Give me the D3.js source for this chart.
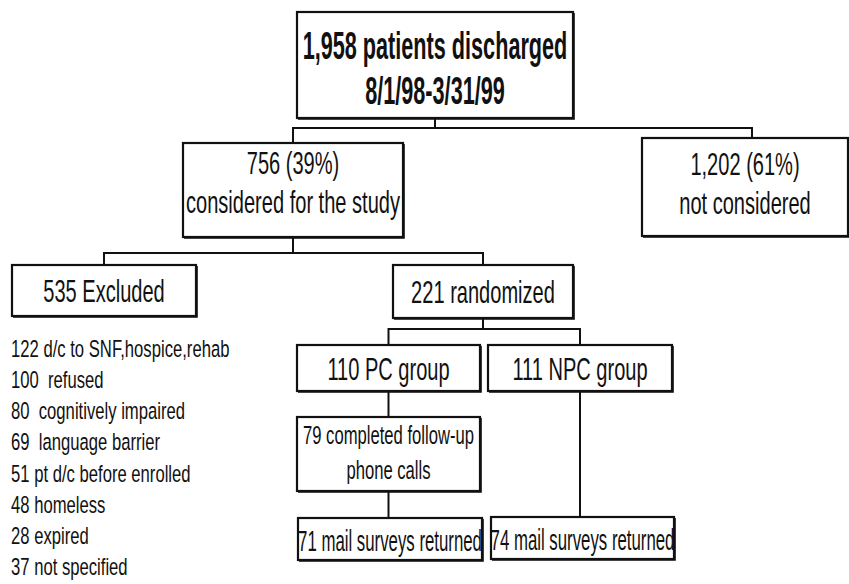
<!DOCTYPE html>
<html>
<head>
<meta charset="utf-8">
<script src="https://cdn.jsdelivr.net/npm/d3@7"></script>
<style>
  html, body { margin: 0; padding: 0; background: #fff; }
  svg { display: block; }
  text { font-family: 'Liberation Sans Narrow', 'Arial Narrow', 'Liberation Sans', Arial, sans-serif; fill: #111; white-space: pre; }
</style>
</head>
<body>
<div id="flow"></div>
<script>
// Data
const dischargedTotal = 1958;
const dischargePeriod = '8/1/98-3/31/99';
const screenedCounts = [756, 1202];
const screenedLabels = ['considered for the study', 'not considered'];
const eligibleCounts = [535, 221];
const eligibleLabels = ['Excluded', 'randomized'];
const groupCounts = [110, 111];
const groupLabels = ['PC group', 'NPC group'];
const followUpCalls = 79;
const mailReturned = [71, 74];
const exclusionCounts = [122, 100, 80, 69, 51, 48, 28, 37];
const exclusionReasons = ['d/c to SNF,hospice,rehab', ' refused', ' cognitively impaired', ' language barrier',
  'pt d/c before enrolled', 'homeless', 'expired', 'not specified'];

const width = 849;
const height = 584;
const fmt = d3.format(',');
const pct = d3.format('.0%');

// Box layout (pixels)
const layout = {
  top:      {x0: 297, x1: 573, y0: 12,  y1: 118, busY: 128},
  consid:   {x0: 183, x1: 403, y0: 143, y1: 237, busY: 253},
  notCons:  {x0: 642, x1: 848, y0: 138, y1: 236, linkX: 752},
  excl:     {x0: 12,  x1: 196, y0: 265, y1: 316},
  rand:     {x0: 393, x1: 573, y0: 265, y1: 318, busY: 329},
  pc:       {x0: 297, x1: 480, y0: 345, y1: 391},
  npc:      {x0: 488, x1: 672, y0: 345, y1: 391},
  calls:    {x0: 297, x1: 480, y0: 417, y1: 491},
  mailPc:   {x0: 298, x1: 482, y0: 518, y1: 560},
  mailNpc:  {x0: 491, x1: 674, y0: 517, y1: 559}
};

// Text styles: size, weight, horizontal condensing
const styles = {
  head: {size: 38, weight: 'bold', sx: 0.57},
  box:  {size: 32, weight: 'normal', sx: 0.627},
  small:{size: 26, weight: 'normal', sx: 0.64},
  mail: {size: 30, weight: 'normal', sx: 0.56},
  list: {size: 24.5, weight: 'normal', sx: 0.68}
};

const nodes = [
  {id: 'top', style: 'head', lines: [`${fmt(dischargedTotal)} patients discharged`, dischargePeriod], base: [59, 104]},
  {id: 'consid', style: 'box', lines: [`${screenedCounts[0]} (${pct(screenedCounts[0] / dischargedTotal)})`, screenedLabels[0]], base: [174, 213]},
  {id: 'notCons', style: 'box', lines: [`${fmt(screenedCounts[1])} (${pct(screenedCounts[1] / dischargedTotal)})`, screenedLabels[1]], base: [175, 214]},
  {id: 'excl', style: 'box', lines: [`${eligibleCounts[0]} ${eligibleLabels[0]}`], base: [302]},
  {id: 'rand', style: 'box', lines: [`${eligibleCounts[1]} ${eligibleLabels[1]}`], base: [303]},
  {id: 'pc', style: 'box', lines: [`${groupCounts[0]} ${groupLabels[0]}`], base: [380]},
  {id: 'npc', style: 'box', lines: [`${groupCounts[1]} ${groupLabels[1]}`], base: [380]},
  {id: 'calls', style: 'small', lines: [`${followUpCalls} completed follow-up`, 'phone calls'], base: [444, 479]},
  {id: 'mailPc', style: 'mail', lines: [`${mailReturned[0]} mail surveys returned`], base: [551]},
  {id: 'mailNpc', style: 'mail', lines: [`${mailReturned[1]} mail surveys returned`], base: [550]}
];

const edges = [
  ['top', 'consid'], ['top', 'notCons'],
  ['consid', 'excl'], ['consid', 'rand'],
  ['rand', 'pc'], ['rand', 'npc'],
  ['pc', 'calls'], ['calls', 'mailPc'], ['npc', 'mailNpc']
];

const svg = d3.select('#flow').append('svg')
  .attr('viewBox', [0, 0, width, height])
  .attr('width', width)
  .attr('height', height);

const cx = b => b.linkX !== undefined ? b.linkX : (b.x0 + b.x1) / 2;
const px = b => (b.x0 + b.x1) / 2;
const line = d3.line();

// Connectors (elbow lines through each parent's bus)
svg.append('g')
    .attr('class', 'links')
    .attr('fill', 'none')
    .attr('stroke', '#111')
    .attr('stroke-width', 2)
  .selectAll('path')
  .data(edges)
  .join('path')
    .attr('d', ([s, t]) => {
      const a = layout[s], b = layout[t];
      const ax = px(a), bx = cx(b);
      if (Math.abs(ax - bx) < 3) return line([[ax, a.y1], [ax, b.y0]]);
      return line([[ax, a.y1], [ax, a.busY], [bx, a.busY], [bx, b.y0]]);
    });

// Boxes
const boxG = svg.append('g').attr('class', 'boxes')
  .selectAll('g')
  .data(nodes)
  .join('g');

boxG.append('rect')
    .attr('x', d => layout[d.id].x0)
    .attr('y', d => layout[d.id].y0)
    .attr('width', d => layout[d.id].x1 - layout[d.id].x0)
    .attr('height', d => layout[d.id].y1 - layout[d.id].y0)
    .attr('fill', '#fff')
    .attr('stroke', '#111')
    .attr('stroke-width', 2.2);

// slightly heavier bottom/right edge like the printed original
boxG.append('path')
    .attr('fill', 'none')
    .attr('stroke', '#111')
    .attr('stroke-width', 1.2)
    .attr('d', d => {
      const b = layout[d.id];
      return line([[b.x1 + 1.2, b.y0 + 1], [b.x1 + 1.2, b.y1 + 1.2], [b.x0 + 1, b.y1 + 1.2]]);
    });

boxG.selectAll('text')
  .data(d => d.lines.map((t, i) => ({t, y: d.base[i], x: px(layout[d.id]), s: styles[d.style]})))
  .join('text')
    .attr('text-anchor', 'middle')
    .attr('transform', d => `translate(${d.x},${d.y}) scale(${d.s.sx},1)`)
    .attr('font-size', d => d.s.size)
    .attr('font-weight', d => d.s.weight)
    .text(d => d.t);

// Exclusion reasons list
const rowY = d3.scalePoint()
  .domain(d3.range(exclusionCounts.length))
  .range([357, 575]);

svg.append('g')
    .attr('class', 'reasons')
  .selectAll('text')
  .data(exclusionCounts.map((c, i) => ({c, r: exclusionReasons[i], i})))
  .join('text')
    .attr('transform', d => `translate(11,${rowY(d.i)}) scale(${styles.list.sx},1)`)
    .attr('font-size', styles.list.size)
    .text(d => `${d.c} ${d.r}`);
</script>
</body>
</html>
